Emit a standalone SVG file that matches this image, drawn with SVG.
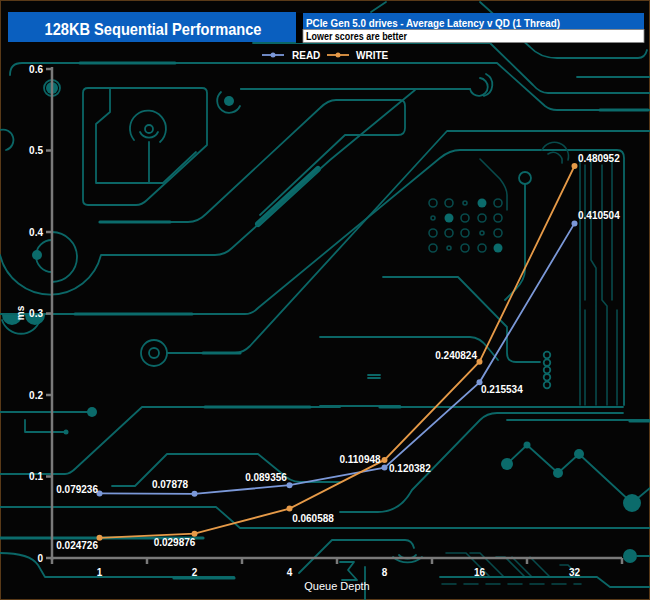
<svg xmlns="http://www.w3.org/2000/svg" width="650" height="600" viewBox="0 0 650 600">
<style>
.tr{fill:none;stroke:#0b6666;stroke-width:1.8;stroke-linecap:round;stroke-linejoin:round}
.td{fill:none;stroke:#084a4b;stroke-width:1.6;stroke-linecap:round}
.tk{fill:none;stroke:#0b6b6b;stroke-width:3.2;stroke-linecap:round}
.fd{fill:#0b6b6b}
.ax{stroke:#7a7a7a;stroke-width:2.5;fill:none}
.lab{font-family:"Liberation Sans",Arial,sans-serif;font-size:10px;font-weight:bold;fill:#ffffff}
.read{fill:none;stroke:#7b98d8;stroke-width:1.8}
.write{fill:none;stroke:#e69a48;stroke-width:1.8}
.rp{fill:#7b98d8}
.wp{fill:#e69a48}
</style>
<rect x="0" y="0" width="650" height="600" fill="#050505"/>
<rect x="0.5" y="0.5" width="649" height="599" fill="none" stroke="#5a3a18" stroke-width="1"/>
<g id="background">
  <!-- top traces -->
  <path class="tr" d="M10,75 Q10,63 22,63 H497 L545,106 Q550,110 557,110 H650"/>
  <path class="tk" d="M80,63 H175 M600,110 H648"/>
  <path class="tr" d="M253,43 H490 L533,85 Q540,93 548,93 H650"/>
  <path class="tr" d="M480,2 L530,47 Q540,58 557,58 H638 Q645,58 647,50"/>
  <path class="tr" d="M577,77 H650"/>
  <path class="tr" d="M241,89 H470"/>
  <path class="tr" d="M470,89 A9,9 0 1 0 480,78 M484,96 A12,12 0 0 0 486,74"/>
  <path class="tr" d="M386,2 L371,12"/>
  <!-- box with concentric circle -->
  <path class="tr" d="M88,88 H202 Q207,88 207,93 V145 L147,200 Q142,205 136,205 H88 Q83,205 83,200 V93 Q83,88 88,88 Z"/>
  <path class="tr" d="M110,88 V112 L96,124 V183 H163 L196,152"/>
  <path class="tr" d="M134,140 A18,18 0 1 1 160,142 M140,132 A10,10 0 0 0 158,132"/>
  <circle class="tr" cx="149" cy="129" r="4"/>
  <path class="tr" d="M149,142 V183"/>
  <path class="tr" d="M221,92 A12,12 0 1 0 240,106"/>
  <circle class="fd" cx="229" cy="101" r="5"/>
  <path class="tr" d="M241,89 H330"/>
  <circle class="tr" cx="52" cy="88" r="8"/>
  <circle class="fd" cx="52" cy="88" r="6"/>
  <!-- long diagonals -->
  <path class="tr" d="M100,222 H188 Q198,222 206,214 L320,108 Q328,100 336,100 H400 Q405,100 405,106 V128 Q405,135 398,135 H345 L260,215"/>
  <path class="tk" d="M100,222 H170"/>
  <path fill="none" stroke="#0b6b6b" stroke-width="6" stroke-linecap="round" d="M258,224 L318,169"/>
  <path class="tr" d="M0,255 A52,52 0 0 0 101,255 H215 Q225,255 232,248 L330,160 L415,90"/>
  <path class="tr" d="M52,232 A25,25 0 1 1 52,282"/>
  <path class="tr" d="M52,240 A16,16 0 0 0 52,272"/>
  <circle class="fd" cx="37" cy="255" r="5"/>
  <path class="tr" d="M53,314 H245 Q252,314 258,308 L440,158 Q450,150 460,150 H617 Q624,150 624,158 V405"/>
  <path class="tk" d="M75,314 H192"/>
  <path class="tr" d="M0,314 H52 M2,320 A20,20 0 0 0 40,320"/>
  <path class="fd" d="M2,315 A10,10 0 0 0 22,315 Z M25,315 A10,10 0 0 0 45,315 Z"/>
  <circle class="tr" cx="154" cy="353" r="13"/>
  <circle class="tr" cx="154" cy="353" r="5"/>
  <path class="tr" d="M167,353 H235 Q243,353 250,346 L447,131 H650"/>
  <path class="tk" d="M203,353 H240"/>
  <path class="tr" d="M0,412 H90 M25,420 V432 H65"/>
  <circle class="fd" cx="92" cy="412" r="5"/>
  <circle class="fd" cx="66" cy="432" r="2.5"/>
  <path class="tr" d="M0,474 H65 Q70,474 76,468 L142,407 H330 H340"/>
  <path class="tk" d="M205,407 H310"/>
  <path class="tr" d="M112,486 H135 L167,454 H258 L280,472 Q290,482 300,482 H340"/>
  <path class="tr" d="M0,507 H216 L240,528 H650"/>
  <path class="tk" d="M0,538 H203"/>
  <path class="tr" d="M0,553 Q30,553 38,565 L45,577 H234"/>
  <path class="tk" d="M174,578 H234"/>
  <path class="tr" d="M299,573 L332,540 H405 Q412,540 414,548"/>
  <path class="tr" d="M393,557 A22,22 0 0 0 422,557 M399,555 A12,12 0 0 0 416,555"/>
  <path class="tr" d="M340,562 H354 L348,570 L357,580 H342 M365,567 V600"/>
  <!-- right area traces -->
  <path class="tr" d="M383,277 H458 L507,327 V353 Q507,362 516,362 H540"/>
  <path class="tr" d="M320,337 H470 Q480,337 488,348 L498,360"/>
  <path class="tr" d="M525,184 V270 Q525,280 515,290 L505,300"/>
  <circle class="tr" cx="525" cy="178" r="6"/>
  <circle class="tr" cx="547" cy="355" r="3.3"/>
  <circle class="tr" cx="547" cy="362.7" r="3.3"/>
  <circle class="tr" cx="547" cy="370" r="3.3"/>
  <circle class="tr" cx="547" cy="377.3" r="3.3"/>
  <circle class="tr" cx="547" cy="385" r="3.3"/>
  <path class="tr" d="M368,378 h12 M368,375 h12"/>
  <path class="td" d="M480,159 L500,179 Q507,188 507,195 V210"/>
  <path class="tr" d="M320,406 H400 M380,407 H623"/>
  <path class="tk" d="M380,407 H400"/>
  <path class="tr" d="M623,413 H497 Q487,413 480,420 L412,490 Q400,512 378,512 H340"/>
  <path class="tr" d="M507,420 H650"/>
  <path class="tk" d="M630,421 H650"/>
  <path class="tr" d="M507,464 L527,445 L558,473 L579,454 L632,503 L650,488"/>
  <circle class="fd" cx="507" cy="464" r="6"/>
  <circle class="fd" cx="527" cy="445" r="3.5"/>
  <circle class="fd" cx="558" cy="473" r="5"/>
  <circle class="fd" cx="579" cy="454" r="5"/>
  <circle class="fd" cx="632" cy="503" r="9"/>
  <circle class="fd" cx="630" cy="556" r="7"/>
  <path class="tr" d="M637,556 H650"/>
  <path class="td" d="M446,553 H466 L490,577 M470,553 H480 L504,577 M496,557 H505 L525,577 M512,557 L532,577 M530,557 L550,577 M560,565 H568 L580,577"/>
  <path class="tr" d="M440,577 H597 L610,587 H650"/>
  <path class="td" stroke-dasharray="14,8" d="M442,584 H581"/>
  <!-- vertical trace group -->
  <path class="td" d="M580,160 V405 M585,165 V300 M585,310 V405 M591,160 V260 L596,268 V405 M602,165 V300 L607,306 V405 M612,160 V300 M617,310 V405"/>
  <path class="td" d="M542,150 A14,14 0 0 1 568,160 M548,154 A9,9 0 0 1 562,163"/>
  <!-- dot grid -->
  <g class="td">
    <circle cx="433" cy="203" r="4"/><circle cx="449" cy="203" r="4"/><circle cx="465" cy="203" r="2"/><circle cx="498" cy="203" r="4"/>
    <circle cx="433" cy="218" r="2"/><circle cx="465" cy="218" r="4"/><circle cx="482" cy="218" r="4"/><circle cx="498" cy="218" r="4"/>
    <circle cx="433" cy="233" r="4"/><circle cx="449" cy="233" r="4"/><circle cx="465" cy="233" r="4"/><circle cx="482" cy="233" r="2"/><circle cx="498" cy="233" r="4"/>
    <circle cx="433" cy="248" r="4"/><circle cx="449" cy="248" r="2"/><circle cx="465" cy="248" r="4"/><circle cx="482" cy="248" r="4"/>
  </g>
  <circle class="fd" cx="482" cy="203" r="4.5"/>
  <circle class="fd" cx="449" cy="218" r="4.5"/>
  <circle class="fd" cx="498" cy="248" r="4.5"/>
  <path class="tr" d="M0,130 A10,10 0 0 1 6,150"/>
</g>
<g id="header">
  <rect x="8" y="12" width="288" height="30" fill="#0a5fbf"/>
  <text x="153" y="35" text-anchor="middle" font-family="'Liberation Sans',Arial,sans-serif" font-size="17" font-weight="bold" fill="#ffffff" textLength="217" lengthAdjust="spacingAndGlyphs">128KB Sequential Performance</text>
  <rect x="296" y="13" width="7" height="30" fill="#000000"/>
  <rect x="303" y="13" width="341" height="16.5" fill="#0a5fbf"/>
  <rect x="303" y="29.5" width="341" height="13" fill="#ffffff" stroke="#888888" stroke-width="0.8"/>
  <text x="306" y="26.5" font-family="'Liberation Sans',Arial,sans-serif" font-size="11.5" font-weight="bold" fill="#ffffff" textLength="254" lengthAdjust="spacingAndGlyphs">PCIe Gen 5.0 drives - Average Latency v QD (1 Thread)</text>
  <text x="306" y="39.5" font-family="'Liberation Sans',Arial,sans-serif" font-size="10.5" font-weight="bold" fill="#000000" textLength="101" lengthAdjust="spacingAndGlyphs">Lower scores are better</text>
</g>
<g id="legend">
  <line class="read" x1="262" y1="55" x2="284" y2="55"/>
  <circle class="rp" cx="273" cy="55" r="2.5"/>
  <text class="lab" x="292" y="59">READ</text>
  <line class="write" x1="327" y1="55" x2="349" y2="55"/>
  <circle class="wp" cx="338" cy="55" r="2.5"/>
  <text class="lab" x="356" y="59">WRITE</text>
</g>
<g id="axes">
  <path class="ax" d="M52,67 V560 M46,558 H622"/>
  <path class="ax" d="M46,69 H52 M46,150.5 H52 M46,232 H52 M46,313.5 H52 M46,395 H52 M46,476.5 H52"/>
  <path class="ax" d="M147,558 V564 M242,558 V564 M337,558 V564 M432,558 V564 M527,558 V564 M622,558 V564 M52,558 V564"/>
  <g class="lab" text-anchor="end">
    <text x="43" y="72.5">0.6</text>
    <text x="43" y="154">0.5</text>
    <text x="43" y="235.5">0.4</text>
    <text x="43" y="317">0.3</text>
    <text x="43" y="398.5">0.2</text>
    <text x="43" y="480">0.1</text>
    <text x="43" y="561.5">0</text>
  </g>
  <text class="lab" transform="translate(24,313) rotate(-90)" text-anchor="middle">ms</text>
  <g class="lab" text-anchor="middle">
    <text x="99.5" y="576">1</text>
    <text x="194.5" y="576">2</text>
    <text x="289.5" y="576">4</text>
    <text x="384.5" y="576">8</text>
    <text x="479.5" y="576">16</text>
    <text x="574.5" y="576">32</text>
  </g>
  <text x="337" y="590" text-anchor="middle" font-family="'Liberation Sans',Arial,sans-serif" font-size="11" fill="#ffffff">Queue Depth</text>
</g>
<g id="connectors">
  <polyline id="read-line" class="read" points="99.5,493.4 194.5,493.8 289.5,485.2 384.5,467.6 479.5,382.3 574.5,223.4"/>
  <polyline id="write-line" class="write" points="99.5,537.8 194.5,533.7 289.5,508.6 384.5,459.9 479.5,361.7 574.5,166"/>
</g>
<g id="read-points">
  <g id="read-1"><circle class="rp" cx="99.5" cy="493.4" r="3"/><text class="lab" x="98" y="493" text-anchor="end">0.079236</text></g>
  <g id="read-2"><circle class="rp" cx="194.5" cy="493.8" r="3"/><text class="lab" x="170" y="487.5" text-anchor="middle">0.07878</text></g>
  <g id="read-4"><circle class="rp" cx="289.5" cy="485.2" r="3"/><text class="lab" x="266" y="481" text-anchor="middle">0.089356</text></g>
  <g id="read-8"><circle class="rp" cx="384.5" cy="467.6" r="3"/><text class="lab" x="360" y="462.5" text-anchor="middle">0.110948</text></g>
  <g id="read-16"><circle class="rp" cx="479.5" cy="382.3" r="3"/><text class="lab" x="481" y="393" text-anchor="start">0.215534</text></g>
  <g id="read-32"><circle class="rp" cx="574.5" cy="223.4" r="3"/><text class="lab" x="578" y="219" text-anchor="start">0.410504</text></g>
</g>
<g id="write-points">
  <g id="write-1"><circle class="wp" cx="99.5" cy="537.8" r="3"/><text class="lab" x="98" y="548.5" text-anchor="end">0.024726</text></g>
  <g id="write-2"><circle class="wp" cx="194.5" cy="533.7" r="3"/><text class="lab" x="174.5" y="546" text-anchor="middle">0.029876</text></g>
  <g id="write-4"><circle class="wp" cx="289.5" cy="508.6" r="3"/><text class="lab" x="313" y="522" text-anchor="middle">0.060588</text></g>
  <g id="write-8"><circle class="wp" cx="384.5" cy="459.9" r="3"/><text class="lab" x="389" y="472" text-anchor="start">0.120382</text></g>
  <g id="write-16"><circle class="wp" cx="479.5" cy="361.7" r="3"/><text class="lab" x="477" y="358.5" text-anchor="end">0.240824</text></g>
  <g id="write-32"><circle class="wp" cx="574.5" cy="166" r="3"/><text class="lab" x="578" y="162" text-anchor="start">0.480952</text></g>
</g>
</svg>
